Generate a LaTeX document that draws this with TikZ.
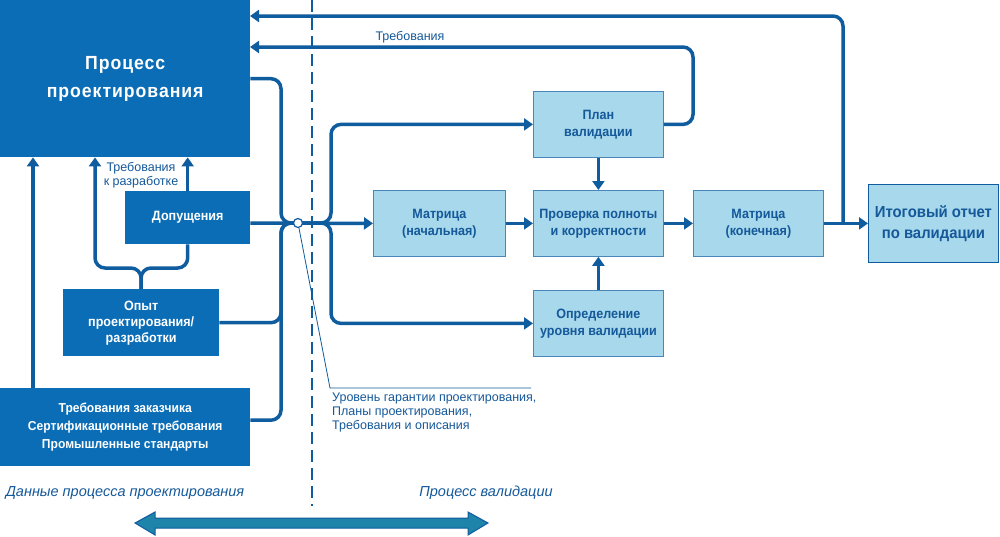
\documentclass[tikz,border=0pt]{standalone}
\usepackage{fontspec}
\setmainfont{Liberation Sans}
\newfontfamily\cond{Liberation Sans}[FakeStretch=0.93]
\newfontfamily\condwide{Liberation Sans}[FakeStretch=0.93, LetterSpace=5]
\usetikzlibrary{arrows.meta}
\definecolor{dblue}{HTML}{0B6DB6}
\definecolor{lblue}{HTML}{A7D8EB}
\definecolor{lnblue}{HTML}{0F5C9E}
\definecolor{tblue}{HTML}{15599A}
\definecolor{bord}{HTML}{4A86B8}
\definecolor{tealarr}{HTML}{1E84AA}
\begin{document}
\begin{tikzpicture}[x=1pt,y=-1pt,
  dbox/.style={fill=dblue, draw=none, text=white, font=\cond\bfseries\fontsize{13.5}{16}\selectfont, align=center, inner sep=0pt, anchor=north west},
  lbox/.style={fill=lblue, draw=bord, line width=0.8pt, text=tblue, font=\cond\bfseries\fontsize{13.5}{17}\selectfont, align=center, inner sep=0pt, minimum width=130pt, minimum height=66pt, anchor=north west},
  conn/.style={draw=lnblue, line width=3.5pt, rounded corners=10pt},
  arr/.style={conn, -{Triangle[length=9pt,width=12pt]}},
  lab/.style={text=tblue, font=\fontsize{12.5}{14}\selectfont, inner sep=0pt},
]
\useasboundingbox (0,0) rectangle (1000,536);
\fill[white] (0,0) rectangle (1000,536);

% dashed divider
\draw[lnblue, line width=1.8pt, dash pattern=on 12pt off 6pt] (312,0) -- (312,506);

% left boxes
\node[dbox, font=\condwide\bfseries\fontsize{19}{28}\selectfont, minimum width=250pt, minimum height=157pt] (dp) at (0,0) {Процесс\\проектирования};
\node[dbox, minimum width=125pt, minimum height=53pt] (ass) at (125,191) {Допущения};
\node[dbox, minimum width=156pt, minimum height=67pt] (exp) at (63,289) {Опыт\\проектирования/\\разработки};
\node[dbox, font=\cond\bfseries\fontsize{13}{18}\selectfont, minimum width=250pt, minimum height=78pt] (req) at (0,388) {Требования заказчика\\Сертификационные требования\\Промышленные стандарты};

% right boxes
\node[lbox, minimum width=132pt] (mat1) at (373,190) {Матрица\\(начальная)};
\node[lbox] (plan) at (533,91) {План\\валидации};
\node[lbox] (chk) at (533,190) {Проверка полноты\\и корректности};
\node[lbox] (lvl) at (533,290) {Определение\\уровня валидации};
\node[lbox] (mat2) at (693,190) {Матрица\\(конечная)};
\node[lbox, draw=lnblue, minimum width=130pt, minimum height=78pt, font=\cond\bfseries\fontsize{16}{21}\selectfont] (fin) at (868,184) {Итоговый отчет\\по валидации};

% coordinates
\coordinate (bL) at (281,223);
\coordinate (cc) at (298,223);
\coordinate (bR) at (331,223);
\coordinate (fk) at (141,268);
\coordinate (jT) at (843,223);
\coordinate (t1) at (250,16);
\coordinate (k2) at (693,47);
\coordinate (t2) at (250,47);
\coordinate (nk) at (330,388);
\coordinate (ne) at (531,388);

% left side connectors
\draw[arr] ([xshift=33pt]req.north west) -- ([xshift=33pt]dp.south west);
\draw[arr] (exp.north) -- (fk) -| ([xshift=95pt]dp.south west);
\draw[conn] (exp.north) -- (fk) -| (ass.south);
\draw[arr] (ass.north) -- (ass.north |- dp.south);
\node[lab, align=center] (lab2) at (141,175) {Требования\\к разработке};

% bus
\draw[conn] (dp.east) -| (bL) -- (cc);
\draw[conn] (exp.east) -| (bL) -- (cc);
\draw[conn] ([yshift=7pt]req.east) -| (bL) -- (cc);
\draw[arr] (ass.east |- cc) -- (mat1.west);
\draw[arr] (cc) -- (bR) |- (plan.west);
\draw[arr] (cc) -- (bR) |- (lvl.west);

% junction circle and note
\node[circle, draw=lnblue, fill=white, line width=1.2pt, minimum size=9pt, inner sep=0pt] (ci) at (cc) {};
\draw[lnblue, line width=0.8pt] (ci) -- (nk) -- (ne);
\node[lab, anchor=north west, align=left] (note) at (332,393) {Уровень гарантии проектирования,\\Планы проектирования,\\Требования и описания};

% right side connectors
\draw[arr] (mat1.east) -- (chk.west);
\draw[arr] (plan.south) -- (chk.north);
\draw[arr] (lvl.north) -- (chk.south);
\draw[arr] (chk.east) -- (mat2.west);
\draw[arr] (mat2.east) -- (fin.west);
\draw[arr] (jT) |- (t1);
\draw[arr] (plan.east) -| (k2) -- (t2);
\node[lab] (lab1) at (410,37) {Требования};

% bottom labels
\node[text=tblue, font=\itshape\fontsize{14.5}{17}\selectfont, inner sep=0pt] (bl1) at (125,493) {Данные процесса проектирования};
\node[text=tblue, font=\itshape\fontsize{14.5}{17}\selectfont, inner sep=0pt] (bl2) at (486,493) {Процесс валидации};

% bottom double arrow
\draw[fill=tealarr, draw=lnblue, line width=1pt, line join=miter]
  (135,523) -- (155,512) -- (155,518) -- (468,518) -- (468,512) -- (488,523)
  -- (468,535) -- (468,528) -- (155,528) -- (155,535) -- cycle;
\end{tikzpicture}
\end{document}
